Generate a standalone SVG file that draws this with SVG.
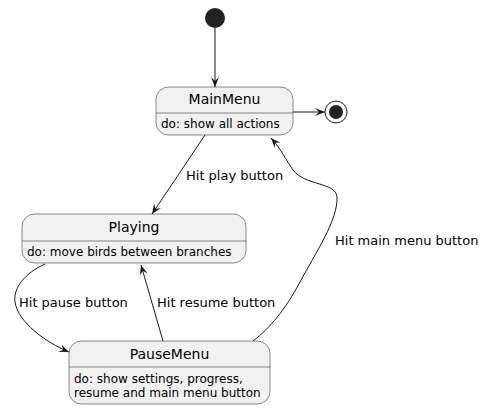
<svg xmlns="http://www.w3.org/2000/svg" width="484" height="410" viewBox="0 0 484 410">
<defs>
<style>
.st{fill:#F1F1F1;stroke:#181818;stroke-width:0.5}
.div{stroke:#181818;stroke-width:0.5}
.t{font-family:"DejaVu Sans",sans-serif;font-size:14px;fill:#000;text-anchor:middle}
.b{font-family:"DejaVu Sans",sans-serif;font-size:12px;fill:#000}
.l{font-family:"DejaVu Sans",sans-serif;font-size:13px;fill:#000}
.e{fill:none;stroke:#181818;stroke-width:1}
</style>
<marker id="a" viewBox="0 0 10 8" refX="10" refY="4" markerWidth="10" markerHeight="8" markerUnits="userSpaceOnUse" orient="auto">
<path d="M0,0 L10,4 L0,8 L4,4 Z" fill="#181818"/>
</marker>
</defs>
<g id="start"><circle cx="215" cy="18" r="10" fill="#222222"/></g>
<g id="end"><circle cx="336" cy="112" r="11" fill="none" stroke="#222222" stroke-width="1"/><circle cx="336" cy="112" r="7" fill="#222222"/></g>
<g id="MainMenu">
<rect class="st" x="156" y="87" width="137" height="48" rx="12.5"/>
<line class="div" x1="156" y1="113" x2="293" y2="113"/>
<text class="t" x="224.5" y="104">MainMenu</text>
<text class="b" x="161" y="128">do: show all actions</text>
</g>
<g id="Playing">
<rect class="st" x="22" y="214" width="224" height="49" rx="12.5"/>
<line class="div" x1="22" y1="241" x2="246" y2="241"/>
<text class="t" x="134" y="232">Playing</text>
<text class="b" x="27" y="256">do: move birds between branches</text>
</g>
<g id="PauseMenu">
<rect class="st" x="69" y="341" width="201" height="63" rx="12.5"/>
<line class="div" x1="69" y1="367" x2="270" y2="367"/>
<text class="t" x="169.5" y="359">PauseMenu</text>
<text class="b" x="74" y="383">do: show settings, progress,</text>
<text class="b" x="74" y="397">resume and main menu button</text>
</g>
<g id="connectors">
<path class="e" d="M215,28 L215,87" marker-end="url(#a)"/>
<path class="e" d="M293,112 L325,112" marker-end="url(#a)"/>
<path class="e" d="M205,135 L152,214" marker-end="url(#a)"/>
<text class="l" x="186" y="180">Hit play button</text>
<path class="e" d="M45,264 C25,273 13,288 15,302 C18,322 45,342 69,352" marker-end="url(#a)"/>
<text class="l" x="19" y="307">Hit pause button</text>
<path class="e" d="M163,341 L141,265" marker-end="url(#a)"/>
<text class="l" x="157" y="307">Hit resume button</text>
<path class="e" d="M253,341 C270,328 285,310 300,282 C316,252 338,220 337,197 C336,182 305,186 293,170 C286,160 281,149 271,138" marker-end="url(#a)"/>
<text class="l" x="335" y="245">Hit main menu button</text>
</g>
</svg>
